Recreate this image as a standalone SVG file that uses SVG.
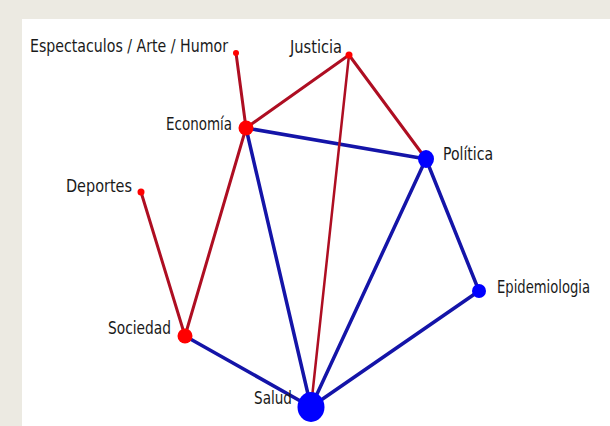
<svg xmlns="http://www.w3.org/2000/svg" width="610" height="426" viewBox="0 0 610 426">
<style>
.lbl{font-family:"DejaVu Sans Condensed","Liberation Sans Narrow","Liberation Sans",sans-serif;font-size:17px;fill:#1A1A1A}
.r{stroke:#AE0E22;stroke-width:3;stroke-linecap:round}
.b{stroke:#1414A8;stroke-width:3.5;stroke-linecap:round}
.nr{fill:#FF0000}
.nb{fill:#0000FF}
</style>
<rect x="0" y="0" width="610" height="426" fill="#ECEAE2"/>
<rect x="22" y="19" width="588" height="407" fill="#FFFFFF"/>
<g id="connectors">
<line class="r" x1="236" y1="53" x2="246" y2="128"/>
<line class="r" x1="349" y1="55" x2="246" y2="128"/>
<line class="r" x1="349" y1="55" x2="426" y2="159"/>
<line class="b" x1="246" y1="128" x2="426" y2="159"/>
<line class="r" x1="246" y1="128" x2="185" y2="336"/>
<line class="b" x1="246" y1="128" x2="311" y2="407"/>
<line class="r" x1="141" y1="192" x2="185" y2="336"/>
<line class="b" x1="426" y1="159" x2="311" y2="407"/>
<line class="b" x1="426" y1="159" x2="479" y2="291"/>
<line class="b" x1="479" y1="291" x2="311" y2="407"/>
<line class="b" x1="185" y1="336" x2="311" y2="407"/>
<line class="r" style="stroke-width:2.5" x1="349" y1="55" x2="311" y2="407"/>
</g>
<g id="espectaculos"><circle class="nr" cx="236" cy="53" r="3"/><text class="lbl" x="30" y="52" textLength="198" lengthAdjust="spacingAndGlyphs">Espectaculos / Arte / Humor</text></g>
<g id="justicia"><circle class="nr" cx="349" cy="55" r="3.5"/><text class="lbl" x="290" y="53" textLength="52" lengthAdjust="spacingAndGlyphs">Justicia</text></g>
<g id="economia"><circle class="nr" cx="246" cy="128" r="7.5"/><text class="lbl" x="166" y="130" textLength="66" lengthAdjust="spacingAndGlyphs">Economía</text></g>
<g id="politica"><ellipse class="nb" cx="426" cy="159" rx="8" ry="9"/><text class="lbl" x="443" y="160" textLength="50" lengthAdjust="spacingAndGlyphs">Política</text></g>
<g id="deportes"><circle class="nr" cx="141" cy="192" r="3.5"/><text class="lbl" x="66" y="192" textLength="66" lengthAdjust="spacingAndGlyphs">Deportes</text></g>
<g id="epidemiologia"><circle class="nb" cx="479" cy="291" r="7"/><text class="lbl" x="497" y="293" textLength="93" lengthAdjust="spacingAndGlyphs">Epidemiologia</text></g>
<g id="sociedad"><circle class="nr" cx="185" cy="336" r="7.5"/><text class="lbl" x="108" y="334" textLength="63" lengthAdjust="spacingAndGlyphs">Sociedad</text></g>
<g id="salud"><ellipse class="nb" cx="311" cy="407" rx="13.5" ry="15"/><text class="lbl" x="254" y="404" textLength="38" lengthAdjust="spacingAndGlyphs">Salud</text></g>
</svg>
